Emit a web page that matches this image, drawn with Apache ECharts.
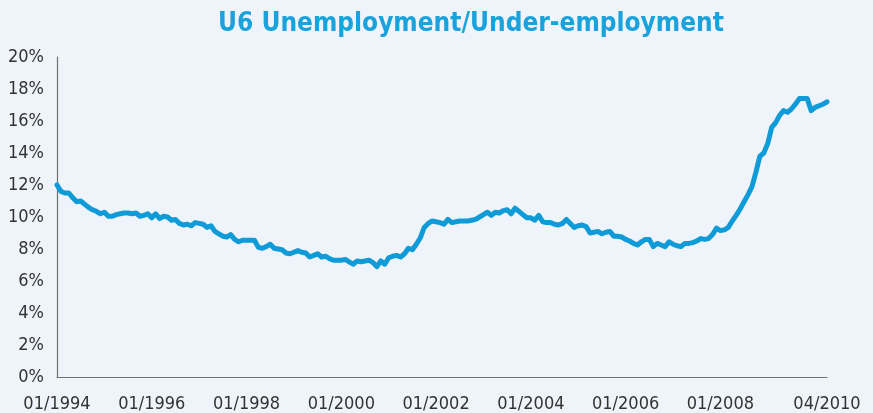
<!DOCTYPE html>
<html>
<head>
<meta charset="utf-8">
<script src="https://cdn.jsdelivr.net/npm/echarts@6/dist/echarts.min.js"></script>
<style>
  html, body { margin: 0; padding: 0; background: #eef4f9; }
  #chart { width: 873px; height: 413px; }
</style>
</head>
<body>
<div id="chart"></div>
<script>
// monthly U6 rate, 01/1994 .. 04/2010
const u6_1994 = [12.0, 11.6, 11.5, 11.5, 11.2, 10.95, 11.0, 10.8, 10.6, 10.45, 10.35, 10.2];
const u6_1995 = [10.3, 10.05, 10.05, 10.15, 10.2, 10.25, 10.25, 10.2, 10.25, 10.05, 10.1, 10.2];
const u6_1996 = [9.95, 10.2, 9.9, 10.05, 10.0, 9.8, 9.85, 9.6, 9.5, 9.55, 9.45, 9.65];
const u6_1997 = [9.6, 9.55, 9.35, 9.45, 9.1, 8.95, 8.8, 8.75, 8.9, 8.6, 8.45, 8.55];
const u6_1998 = [8.55, 8.55, 8.55, 8.1, 8.05, 8.15, 8.3, 8.05, 8.0, 7.95, 7.75, 7.7];
const u6_1999 = [7.8, 7.9, 7.8, 7.75, 7.5, 7.6, 7.7, 7.5, 7.55, 7.4, 7.3, 7.3];
const u6_2000 = [7.3, 7.35, 7.2, 7.05, 7.25, 7.2, 7.25, 7.3, 7.15, 6.9, 7.25, 7.05];
const u6_2001 = [7.45, 7.55, 7.6, 7.5, 7.7, 8.05, 7.95, 8.3, 8.7, 9.35, 9.6, 9.75];
const u6_2002 = [9.7, 9.65, 9.55, 9.85, 9.65, 9.7, 9.75, 9.75, 9.75, 9.8, 9.85, 10.0];
const u6_2003 = [10.15, 10.3, 10.1, 10.3, 10.25, 10.4, 10.45, 10.2, 10.55, 10.35, 10.15, 9.95];
const u6_2004 = [9.95, 9.8, 10.1, 9.7, 9.65, 9.65, 9.55, 9.5, 9.6, 9.85, 9.6, 9.35];
const u6_2005 = [9.45, 9.5, 9.4, 9.0, 9.05, 9.1, 8.95, 9.05, 9.1, 8.8, 8.8, 8.75];
const u6_2006 = [8.6, 8.5, 8.35, 8.25, 8.45, 8.6, 8.6, 8.15, 8.35, 8.25, 8.15, 8.45];
const u6_2007 = [8.3, 8.2, 8.15, 8.35, 8.35, 8.4, 8.5, 8.65, 8.6, 8.65, 8.9, 9.3];
const u6_2008 = [9.15, 9.2, 9.35, 9.75, 10.1, 10.5, 10.95, 11.4, 11.9, 12.8, 13.8, 14.0];
const u6_2009 = [14.6, 15.6, 15.9, 16.35, 16.65, 16.55, 16.75, 17.05, 17.4, 17.4, 17.4, 16.65];
const u6_2010 = [16.85, 16.95, 17.05, 17.2];

const values = [].concat(u6_1994, u6_1995, u6_1996, u6_1997, u6_1998, u6_1999, u6_2000,
  u6_2001, u6_2002, u6_2003, u6_2004, u6_2005, u6_2006, u6_2007, u6_2008, u6_2009, u6_2010);

const startYear = 1994;
const months = values.map((v, i) => {
  const y = startYear + Math.floor(i / 12);
  const m = (i % 12) + 1;
  return (m < 10 ? '0' : '') + m + '/' + y;
});
const shownLabels = ['01/1994', '01/1996', '01/1998', '01/2000', '01/2002', '01/2004', '01/2006', '01/2008', '04/2010'];

const font = '"DejaVu Sans Condensed", "DejaVu Sans", sans-serif';
const chart = echarts.init(document.getElementById('chart'));
chart.setOption({
  backgroundColor: '#eef4f9',
  animation: false,
  title: {
    text: 'U6 Unemployment/Under-employment',
    left: 213,
    top: 6,
    textStyle: { color: '#1aa2dc', fontFamily: font, fontWeight: 'bold', fontSize: 26 }
  },
  grid: { left: 57, right: 46, top: 57, bottom: 36, containLabel: false },
  xAxis: {
    type: 'category',
    data: months,
    boundaryGap: false,
    axisLine: { lineStyle: { color: '#707070', width: 1.2 } },
    axisTick: { show: false },
    axisLabel: {
      interval: (i, v) => shownLabels.includes(v),
      color: '#333333',
      fontFamily: font,
      fontSize: 18,
      margin: 18,
      hideOverlap: false
    },
    splitLine: { show: false }
  },
  yAxis: {
    type: 'value',
    min: 0,
    max: 20,
    interval: 2,
    axisLine: { show: true, lineStyle: { color: '#707070', width: 1.2 } },
    axisTick: { show: false },
    axisLabel: { formatter: '{value}%', color: '#333333', fontFamily: font, fontSize: 18, margin: 13 },
    splitLine: { show: false }
  },
  series: [{
    type: 'line',
    data: values,
    showSymbol: false,
    lineStyle: { color: '#0f9ad8', width: 5, join: 'round', cap: 'round' },
    itemStyle: { color: '#0f9ad8' }
  }]
});
</script>
</body>
</html>
